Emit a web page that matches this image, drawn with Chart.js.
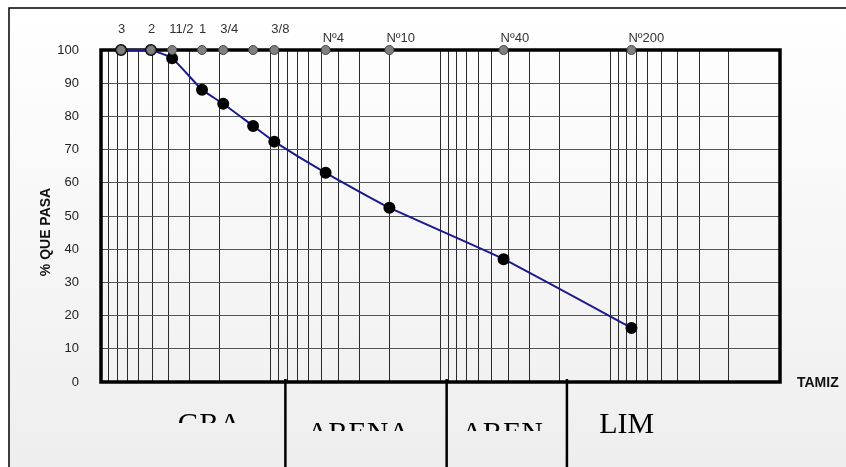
<!DOCTYPE html>
<html>
<head>
<meta charset="utf-8">
<script src="https://cdn.jsdelivr.net/npm/chart.js@4"></script>
<style>
  body { margin: 0; background: #fff; }
  canvas { display: block; }
</style>
</head>
<body>
<canvas id="granulometria" width="846" height="467"></canvas>
<script>
// sieve data (size in mm, % passing)
const sieveNames = ["3", "2", "11/2", "1", "3/4", "", "3/8", "Nº4", "Nº10", "Nº40", "Nº200"];
const sieveSizes = [76.2, 50.8, 38.1, 25.4, 19.05, 12.7, 9.525, 4.75, 2.0, 0.425, 0.075];
const percentPassing = [100, 100, 97.5, 88.0, 83.8, 77.1, 72.4, 63.0, 52.5, 37.0, 16.3];
const sieveMarks = [100, 100, 100, 100, 100, 100, 100, 100, 100, 100, 100];
const percentTicks = [0, 10, 20, 30, 40, 50, 60, 70, 80, 90, 100];

// soil zones under the chart
const zoneNames = ["GRA", "ARENA", "AREN", "LIM"];
const zoneBounds = [8.2, 0.92, 0.18];
const zoneLabelSizes = [23, 3.05, 0.434, 0.08];

// log grid lines 1..9 x 10^k
const sizeGrid = [];
for (let e = -2; e <= 1; e++) {
  for (let s = 1; s <= 9; s++) sizeGrid.push(Number((s * Math.pow(10, e)).toPrecision(2)));
}
sizeGrid.push(100);

const sans = "'Liberation Sans', Arial, sans-serif";
const serif = "'Liberation Serif', 'Times New Roman', serif";
Chart.defaults.font.family = sans;

const paper = {
  id: "paper",
  beforeDraw(chart) {
    const { ctx, width, height } = chart;
    ctx.save();
    ctx.fillStyle = "#fff";
    ctx.fillRect(0, 0, width, height);
    const g = ctx.createLinearGradient(0, 8, 0, height);
    g.addColorStop(0, "#ffffff");
    g.addColorStop(1, "#eeeeee");
    ctx.fillStyle = g;
    ctx.fillRect(9, 8, width - 9, height - 8);
    ctx.strokeStyle = "#000";
    ctx.lineWidth = 1.5;
    ctx.beginPath();
    ctx.moveTo(9, height);
    ctx.lineTo(9, 8);
    ctx.lineTo(width, 8);
    ctx.stroke();
    ctx.restore();
  },
  beforeDatasetsDraw(chart) {
    const { ctx, chartArea: a } = chart;
    ctx.save();
    ctx.strokeStyle = "#000";
    ctx.lineWidth = 3.5;
    ctx.strokeRect(a.left, a.top, a.right - a.left, a.bottom - a.top);
    ctx.restore();
  },
  afterDraw(chart) {
    const { ctx, chartArea: a, scales: { x } } = chart;
    ctx.save();

    // sieve names above the top border
    ctx.fillStyle = "#333";
    ctx.font = "13px " + sans;
    ctx.textAlign = "left";
    ctx.textBaseline = "alphabetic";
    sieveNames.forEach((name, i) => {
      const px = x.getPixelForValue(sieveSizes[i]);
      ctx.fillText(name, px - 3, name.startsWith("Nº") ? 42 : 33);
    });

    // y title
    ctx.save();
    ctx.translate(50, 232);
    ctx.rotate(-Math.PI / 2);
    ctx.textAlign = "center";
    ctx.fillStyle = "#111";
    ctx.font = "bold 14px " + sans;
    ctx.fillText("% QUE PASA", 0, 0);
    ctx.restore();

    // x title
    ctx.fillStyle = "#111";
    ctx.font = "bold 14px " + sans;
    ctx.fillText("TAMIZ", 797, 387);

    // zone dividers
    ctx.strokeStyle = "#000";
    ctx.lineWidth = 2.5;
    zoneBounds.forEach(v => {
      const px = x.getPixelForValue(v);
      ctx.beginPath();
      ctx.moveTo(px, a.bottom - 3);
      ctx.lineTo(px, chart.height);
      ctx.stroke();
    });

    // zone names, cut off like in the sheet
    const baseline = [433, 442, 442, 433];
    const clipAt = [423, 431, 431, chart.height];
    ctx.font = "30px " + serif;
    ctx.textAlign = "center";
    ctx.fillStyle = "#000";
    zoneNames.forEach((name, i) => {
      ctx.save();
      ctx.beginPath();
      ctx.rect(0, 0, chart.width, clipAt[i]);
      ctx.clip();
      ctx.fillText(name, x.getPixelForValue(zoneLabelSizes[i]), baseline[i]);
      ctx.restore();
    });

    ctx.restore();
  }
};

const ctx = document.getElementById("granulometria").getContext("2d");
const chart = new Chart(ctx, {
  type: "scatter",
  data: {
    datasets: [
      {
        label: "% que pasa",
        data: sieveSizes.map((s, i) => ({ x: s, y: percentPassing[i] })),
        showLine: true,
        borderColor: "#1a1a8c",
        borderWidth: 2,
        tension: 0.15,
        pointRadius: 5,
        pointBackgroundColor: "#000",
        pointBorderColor: "#000",
        clip: false,
        order: 2,
      },
      {
        label: "tamices",
        data: sieveSizes.map((s, i) => ({ x: s, y: sieveMarks[i] })),
        showLine: false,
        pointRadius: 4.5,
        pointBackgroundColor: "#808080",
        pointBorderColor: "#444",
        pointBorderWidth: 1,
        clip: false,
        order: 1,
      },
    ],
  },
  options: {
    responsive: false,
    animation: false,
    layout: { padding: { left: 0, top: 50, right: 66, bottom: 0 } },
    plugins: { legend: { display: false }, tooltip: { enabled: false } },
    scales: {
      x: {
        type: "logarithmic",
        reverse: true,
        min: 0.01,
        max: 100,
        afterBuildTicks: (scale) => { scale.ticks = sizeGrid.map(v => ({ value: v })); },
        afterFit: (scale) => { scale.height = 85; },
        ticks: { display: false },
        grid: { color: "#2a2a2a", lineWidth: 1, drawTicks: false },
        border: { display: false },
      },
      y: {
        min: 0,
        max: 100,
        afterBuildTicks: (scale) => { scale.ticks = percentTicks.map(v => ({ value: v })); },
        afterFit: (scale) => { scale.width = 101; },
        ticks: { color: "#222", padding: 22, font: { size: 13 } },
        grid: { color: "#555", lineWidth: 1, drawTicks: false },
        border: { display: false },
      },
    },
  },
  plugins: [paper],
});
</script>
</body>
</html>
